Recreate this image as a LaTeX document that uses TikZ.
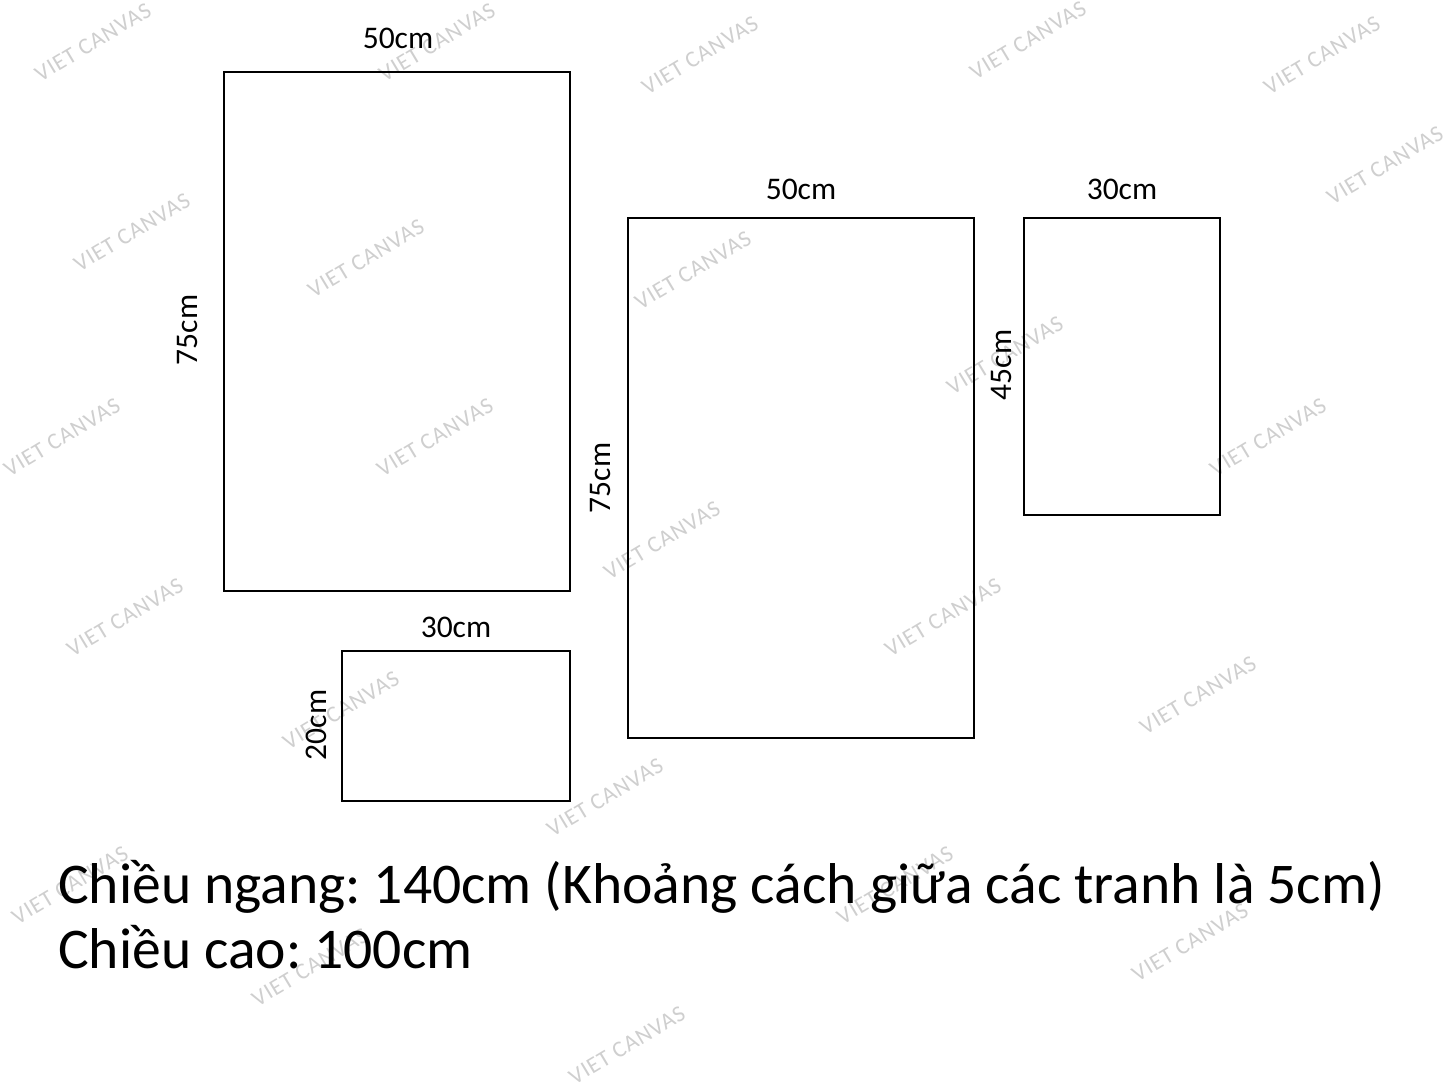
\documentclass[tikz,border=0pt]{standalone}
\usepackage{fontspec}
\setmainfont{Carlito}
\newfontfamily\wmfont[LetterSpace=4]{Carlito}
\frenchspacing
\begin{document}
\begin{tikzpicture}[x=1pt,y=-1pt,
  frame/.style={draw=black,line width=2.2pt},
  dim/.style={font=\fontsize{31.5}{34}\selectfont,inner sep=0pt},
  wm/.style={font=\wmfont\fontsize{23}{25}\selectfont,text=black!19,rotate=31,inner sep=0pt},
  big/.style={font=\fontsize{57.6}{62}\selectfont,inner sep=0pt,anchor=base west}]
\fill[white] (0,0) rectangle (1445,1083);
\useasboundingbox (0,0) rectangle (1445,1083);
% watermarks
\foreach \x/\y [count=\i] in {93/42,437/42,700/55,1028/40,1322/55,1385/165,132/232,366/258,693/270,1005/355,62/437,435/437,1268/437,662/540,125/617,943/617,1198/695,341/710,605/797,70/885,895/885,1190/942,310/967,627/1045}
  \node[wm] (wm\i) at (\x,\y) {VIET CANVAS};
% frames
\draw[frame] (224,72) rectangle (570,591) coordinate (A);
\draw[frame] (342,651) rectangle (570,801) coordinate (B);
\draw[frame] (628,218) rectangle (974,738) coordinate (C);
\draw[frame] (1024,218) rectangle (1220,515) coordinate (D);
% labels
\node[dim] (la1) at (398,38) {50cm};
\node[dim,rotate=90] (la2) at (187,330) {75cm};
\node[dim] (lb1) at (456,627) {30cm};
\node[dim,rotate=90] (lb2) at (316,725) {20cm};
\node[dim] (lc1) at (801,189) {50cm};
\node[dim,rotate=90] (lc2) at (600,478) {75cm};
\node[dim] (ld1) at (1122,189) {30cm};
\node[dim,rotate=90] (ld2) at (1001,365) {45cm};
% caption
\node[big] (t1) at (58,903) {Chiều ngang: 140cm (Khoảng cách giữa các tranh là 5cm)};
\node[big] (t2) at (58,968) {Chiều cao: 100cm};
\end{tikzpicture}
\end{document}
